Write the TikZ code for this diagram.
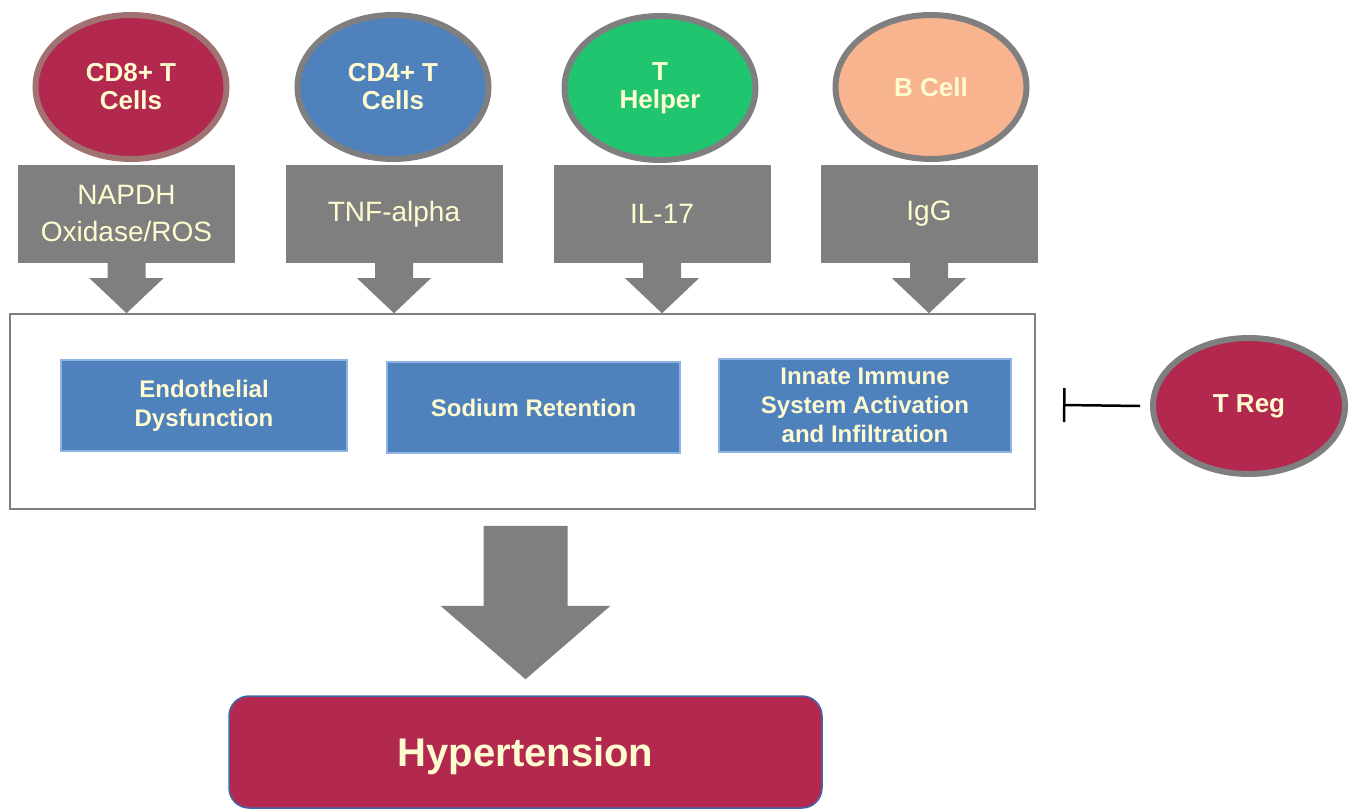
\documentclass[tikz,border=0pt]{standalone}
\usepackage{fontspec}
\setmainfont{Liberation Sans}
\usetikzlibrary{shapes.geometric,calc,arrows.meta}
\definecolor{crim}{HTML}{B2284F}
\definecolor{cream}{HTML}{FFFBD0}
\definecolor{gr}{HTML}{7F7F7F}
\definecolor{bl}{HTML}{4F81BD}
\definecolor{blb}{HTML}{8DB3E2}
\definecolor{grn}{HTML}{21C46F}
\definecolor{peach}{HTML}{F8B48F}
\definecolor{mauve}{HTML}{A07272}
\definecolor{hyb}{HTML}{3C6AA8}
\begin{document}
\begin{tikzpicture}[x=1pt,y=-1pt,
 cell/.style={ellipse, draw=gr, line width=6pt, minimum width=191pt, minimum height=144pt, inner sep=0pt, align=center, text=cream, font=\fontsize{26}{28}\selectfont\bfseries},
 fact/.style={fill=gr, minimum width=217pt, minimum height=98pt, inner sep=0pt, align=center, text=cream, font=\fontsize{28}{37}\selectfont},
 mech/.style={fill=bl, draw=blb, line width=1.5pt, inner sep=0pt, align=center, text=cream, font=\fontsize{24}{29}\selectfont\bfseries},
]
\useasboundingbox (0,0) rectangle (1354,810);

% cells
\node[cell, fill=crim, draw=mauve] (c1) at (131,87) {CD8+ T\\Cells};
\node[cell, fill=bl] (c2) at (393,87) {CD4+ T\\Cells};
\node[cell, fill=grn] (c3) at (660,88) {T\\Helper};
\node[cell, fill=peach] (c4) at (931,87) {B Cell};

% factors
\node[fact] (g1) at (126.5,214) {NAPDH\\Oxidase/ROS};
\node[fact] (g2) at (394,214) {TNF-alpha};
\node[fact] (g3) at (662,214) {IL-17};
\node[fact] (g4) at (929,214) {IgG};

% container
\node[draw=gr, line width=1.5pt, minimum width=1025pt, minimum height=195pt, inner sep=0pt] (box) at (522.5,411.5) {};

% mechanisms
\node[mech, minimum width=286pt, minimum height=91pt] (m1) at (204,405.5) {Endothelial\\Dysfunction};
\node[mech, minimum width=293pt, minimum height=91pt] (m2) at (533.5,407.5) {Sodium Retention};
\node[mech, minimum width=292pt, minimum height=93pt] (m3) at (865,405.5) {Innate Immune\\System Activation\\and Infiltration};

% callout arrows
\foreach \g in {g1,g2,g3,g4}{
  \fill[gr] ($(\g.south)+(-19,-1)$) -- ($(\g.south)+(-19,15)$) -- ($(\g.south)+(-37,15)$)
    -- (\g.south |- box.north) -- ($(\g.south)+(37,15)$) -- ($(\g.south)+(19,15)$) -- ($(\g.south)+(19,-1)$) -- cycle;
}

% T Reg
\node[cell, fill=crim, minimum width=192pt, minimum height=136pt] (treg) at (1249,406) {T Reg};
\coordinate (inh) at (1063,405);
\draw[line width=2.5pt, -{Bar[width=34pt,line width=2.5pt]}] ([xshift=-10pt]treg.west) -- (inh);

% Hypertension
\node[fill=crim, draw=hyb, line width=1.5pt, rounded corners=20pt, minimum width=593pt, minimum height=112pt, inner sep=0pt, text height=29pt, text depth=-6pt, text=cream, font=\fontsize{40}{44}\selectfont\bfseries] (hyp) at (525.5,752) {Hypertension};

% big arrow
\fill[gr] ($(box.south -| hyp.north)+(-42,16)$) -- ($(box.south -| hyp.north)+(42,16)$)
  -- ($(box.south -| hyp.north)+(42,96)$) -- ($(box.south -| hyp.north)+(85,96)$)
  -- ($(hyp.north)+(0,-16)$)
  -- ($(box.south -| hyp.north)+(-85,96)$) -- ($(box.south -| hyp.north)+(-42,96)$) -- cycle;
\end{tikzpicture}
\end{document}
